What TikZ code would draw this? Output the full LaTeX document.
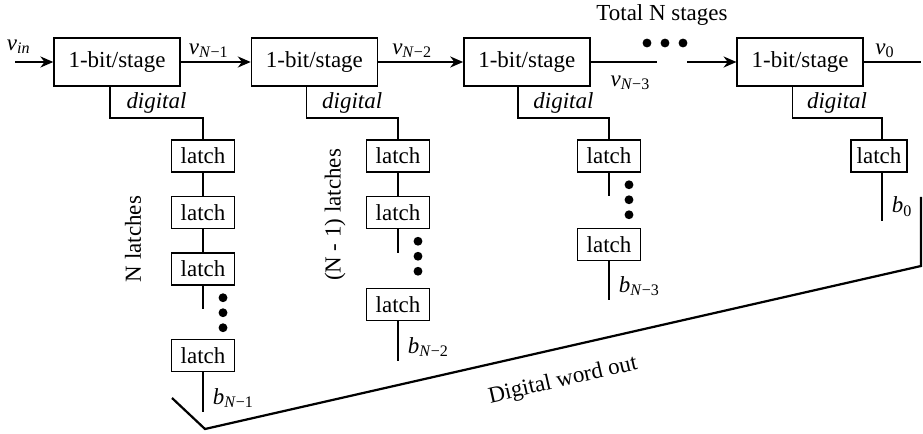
\documentclass[tikz,border=0pt]{standalone}
\usepackage{fontspec}
\setmainfont{Liberation Serif}
\usetikzlibrary{arrows.meta,positioning,calc}
\newcommand{\vsub}[2]{\textit{#1}\textsubscript{#2}}

\begin{document}
\begin{tikzpicture}[x=0.54pt,y=-0.54pt,>={Stealth[length=7pt,width=6pt]},
    font=\fontsize{12.4}{14}\selectfont,
    stage/.style={draw,line width=0.8pt,minimum width=68pt,minimum height=26pt,inner sep=0pt},
    latchbox/.style={draw,line width=0.8pt,minimum width=34pt,minimum height=17.3pt,inner sep=0pt},
    wire/.style={line width=0.75pt},
    lbl/.style={inner sep=2pt}]
  \useasboundingbox (0,0) rectangle (923,434);

  \node[stage] (s1) at (117,62) {1-bit/stage};
  \node[stage,right=37.8pt of s1] (s2) {1-bit/stage};
  \node[stage,right=45.9pt of s2] (s3) {1-bit/stage};
  \node[stage,right=78.8pt of s3] (s4) {1-bit/stage};

  \coordinate (in) at (15,62);
  \coordinate (out3) at (657,62);
  \coordinate (in4) at (687,62);
  \coordinate (out4) at (921,62);
  \draw[wire,->] (in) node[lbl,above,xshift=2pt,yshift=2pt] {\vsub{v}{\textit{in}}} -- (s1);
  \draw[wire,->] (s1) -- node[lbl,above,pos=0.4] {\vsub{v}{\textit{N}−1}} (s2);
  \draw[wire,->] (s2) -- node[lbl,above,pos=0.4] {\vsub{v}{\textit{N}−2}} (s3);
  \draw[wire] (s3) -- node[lbl,below=5pt,pos=0.6] {\vsub{v}{\textit{N}−3}} (out3);
  \draw[wire,->] (in4) -- (s4);
  \draw[wire] (s4) -- node[lbl,above,pos=0.37] {\vsub{v}{0}} (out4);
  \foreach \x in {647,665,683} \fill (\x,43) circle (2.4pt);
  \node (total) at (662,15) {Total N stages};

  \node[latchbox] (l11) at (203,156) {latch};
  \node[latchbox,below=12.4pt of l11] (l12) {latch};
  \node[latchbox,below=12.4pt of l12] (l13) {latch};
  \node[latchbox,below=28.6pt of l13] (l14) {latch};
  \node[latchbox] (l21) at (398,156) {latch};
  \node[latchbox,below=12.4pt of l21] (l22) {latch};
  \node[latchbox,below=31.5pt of l22] (l23) {latch};
  \node[latchbox] (l31) at (609,156) {latch};
  \node[latchbox,below=29.7pt of l31] (l32) {latch};
  \node[latchbox,minimum width=30pt] (l41) at (879,156) {latch};

  \draw[wire] ([xshift=-3.8pt]s1.south) -- ++(0,31) -| node[lbl,pos=0.25,above] {\textit{digital}} (l11.north);
  \draw[wire] ([xshift=-4.3pt]s2.south) -- ++(0,31) -| node[lbl,pos=0.25,above] {\textit{digital}} (l21.north);
  \draw[wire] ([xshift=-4.8pt]s3.south) -- ++(0,31) -| node[lbl,pos=0.25,above] {\textit{digital}} (l31.north);
  \draw[wire] ([xshift=-4.3pt]s4.south) -- ++(0,31) -| node[lbl,pos=0.25,above] {\textit{digital}} ([xshift=1.6pt]l41.north);

  \draw[wire] (l11) -- (l12);
  \draw[wire] (l12) -- (l13);
  \draw[wire] (l13.south) -- ++(0,23) coordinate (c13);
  \draw[wire] (l21) -- (l22);
  \draw[wire] (l22.south) -- ++(0,24) coordinate (c22);
  \draw[wire] (l31.south) -- ++(0,23) coordinate (c31);
  \foreach \l in {l13,l22,l31}
    \foreach \d in {12,27,42} \fill ($(\l.south)+(20,\d)$) circle (2.4pt);

  \draw[wire] (l14.south) -- ++(0,40) coordinate (b1) node[lbl,anchor=south west,xshift=3pt] {\vsub{b}{\textit{N}−1}};
  \draw[wire] (l23.south) -- ++(0,40) coordinate (b2) node[lbl,anchor=south west,xshift=3pt] {\vsub{b}{\textit{N}−2}};
  \draw[wire] (l32.south) -- ++(0,39) coordinate (b3) node[lbl,anchor=south west,xshift=3pt] {\vsub{b}{\textit{N}−3}};
  \draw[wire] ([xshift=1.6pt]l41.south) -- ++(0,48) coordinate (b4) node[lbl,anchor=south west,xshift=3pt] {\vsub{b}{0}};

  \node[rotate=90] (nlat) at (133,239) {N latches};
  \node[rotate=90] (n1lat) at (335,215) {(N - 1) latches};

  \coordinate (w1) at (172,398);
  \coordinate (w2) at (205,429);
  \coordinate (w3) at (921,266);
  \coordinate (w4) at (921,197);
  \draw[line width=1.2pt] (w1) -- (w2) -- node[sloped,below=8pt,pos=0.49] {Digital word out} (w3) -- (w4);
\end{tikzpicture}
\end{document}
